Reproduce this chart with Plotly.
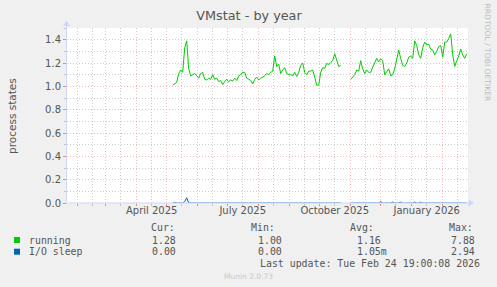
import plotly.graph_objects as go
import pandas as pd

# ---------------- data ----------------
sample_dates = pd.date_range("2025-05-07", periods=148, freq="2D")

running = [
    1.01, 1.02, 1.034, 1.11, 1.14, 1.12, 1.33, 1.39, 1.15, 1.09,
    1.10, 1.11, 1.09, 1.07, 1.11, 1.12, 1.06, 1.055, 1.07, 1.06,
    1.10, 1.06, 1.07, 1.04, 1.05, 1.015, 1.04, 1.06, 1.04, 1.055,
    1.045, 1.07, 1.05, 1.09, 1.10, 1.12, 1.12, 1.07, 1.06, 1.05,
    1.02, 1.06, 1.08, 1.055, 1.07, 1.08, 1.09, 1.11, 1.10, 1.12,
    1.13, 1.26, 1.17, 1.19, 1.11, 1.14, 1.16, 1.11, 1.10, 1.10,
    1.09, 1.12, 1.085, 1.12, 1.18, 1.20, 1.12, 1.10, 1.13, 1.13,
    1.14, 1.08, 1.01, 1.01, 1.12, 1.16, 1.155, 1.197, 1.185, 1.205,
    1.22, 1.28, 1.23, 1.17, 1.18, None, None, None, None, 1.06,
    1.08, 1.10, 1.14, 1.13, 1.22, 1.15, 1.11, 1.14, 1.12, 1.12,
    1.165, 1.20, 1.24, 1.21, 1.235, 1.22, 1.10, 1.125, 1.15, 1.09,
    1.10, 1.15, 1.226, 1.31, 1.24, 1.18, 1.17, 1.20, 1.25, 1.26,
    1.24, 1.39, 1.35, 1.27, 1.24, 1.33, 1.38, 1.355, 1.36, 1.32,
    1.31, 1.27, 1.30, 1.34, 1.35, 1.25, 1.38, 1.38, 1.41, 1.45,
    1.27, 1.17, 1.22, 1.26, 1.32, 1.27, 1.24, 1.28,
]

io_sleep = [0.0] * 148
io_sleep[1] = 0.005
io_sleep[6] = 0.012
io_sleep[7] = 0.045
io_sleep[10] = 0.005
io_sleep[104] = 0.012
io_sleep[110] = 0.008
io_sleep[114] = 0.008
io_sleep[121] = 0.008
io_sleep[124] = 0.008
io_sleep[135] = 0.006
io_sleep[143] = 0.006
for k in (85, 86, 87, 88):
    io_sleep[k] = None

month_starts = [
    "2025-02-01", "2025-03-01", "2025-04-01", "2025-05-01", "2025-06-01",
    "2025-07-01", "2025-08-01", "2025-09-01", "2025-10-01", "2025-11-01",
    "2025-12-01", "2026-01-01", "2026-02-01",
]
mid_months = [
    "2025-02-16", "2025-03-16", "2025-04-16", "2025-05-16", "2025-06-16",
    "2025-07-16", "2025-08-16", "2025-09-16", "2025-10-16", "2025-11-16",
    "2025-12-16", "2026-01-16", "2026-02-16",
]
label_dates = ["2025-04-16", "2025-07-16", "2025-10-16", "2026-01-16"]
label_texts = ["April 2025", "July 2025", "October 2025", "January 2026"]

series_names = ["running", "I/O sleep"]
series_colors = ["#00CC00", "#0066B3"]
cur_vals = ["1.28", "0.00"]
min_vals = ["1.00", "0.00"]
avg_vals = ["1.16", "1.05m"]
max_vals = ["7.88", "2.94"]

# ---------------- layout geometry ----------------
W, H = 497, 287
ML, MR, MT, MB = 67, 29, 28, 84
PW = W - ML - MR
PH = H - MT - MB
PB = H - MB


def px(x):
    return (x - ML) / PW


def py(y):
    return (PB - y) / PH


FONT = "DejaVu Sans"
MONO = "DejaVu Sans Mono"
TXT = "#555555"
AXIS = "#CFD6F8"
MGRID = "rgba(235,120,120,0.5)"
GRID = "rgba(140,140,140,0.45)"
DOT = "1px,2px"

fig = go.Figure()
fig.add_trace(go.Scatter(x=sample_dates, y=running, mode="lines",
                         line=dict(color=series_colors[0], width=1),
                         connectgaps=False, hoverinfo="skip", showlegend=False))
fig.add_trace(go.Scatter(x=sample_dates, y=io_sleep, mode="lines",
                         line=dict(color=series_colors[1], width=1),
                         connectgaps=False, hoverinfo="skip", showlegend=False))
# invisible trace to carry the label axis
fig.add_trace(go.Scatter(x=label_dates, y=[None] * len(label_dates), xaxis="x2",
                         mode="lines", showlegend=False, hoverinfo="skip"))

xrange = ["2025-01-21 07:00", "2026-02-26 07:00"]

fig.update_layout(
    width=W, height=H,
    margin=dict(l=ML, r=MR, t=MT, b=MB, pad=0),
    paper_bgcolor="#F0F0F0",
    plot_bgcolor="#FFFFFF",
    font=dict(family=FONT, size=10, color=TXT),
    title=dict(text="VMstat - by year", x=249 / W, xanchor="center",
               y=1 - 16 / H, yanchor="middle", xref="container", yref="container",
               font=dict(family=FONT, size=12.8, color=TXT)),
    xaxis=dict(
        type="date", range=xrange,
        tickvals=month_starts, ticktext=[""] * len(month_starts),
        showgrid=True, gridcolor=MGRID, griddash=DOT, gridwidth=1,
        ticks="outside", ticklen=2, tickcolor="rgba(235,110,110,0.8)",
        minor=dict(tickvals=mid_months, showgrid=True, gridcolor=GRID,
                   griddash=DOT, gridwidth=1, ticks="outside", ticklen=2,
                   tickcolor=GRID),
        showline=False, zeroline=False, fixedrange=True,
    ),
    xaxis2=dict(
        type="date", range=xrange, overlaying="x", side="bottom",
        tickvals=label_dates, ticktext=label_texts, showgrid=False,
        ticks="", showline=False, zeroline=False,
        tickfont=dict(family=FONT, size=10, color=TXT),
    ),
    yaxis=dict(
        range=[0, 1.5], tickvals=[0, 0.2, 0.4, 0.6, 0.8, 1.0, 1.2, 1.4],
        tickformat=".1f",
        showgrid=True, gridcolor=MGRID, griddash=DOT, gridwidth=1,
        ticks="outside", ticklen=3, tickcolor="rgba(235,110,110,0.8)",
        minor=dict(tickvals=[0.1, 0.3, 0.5, 0.7, 0.9, 1.1, 1.3, 1.5],
                   showgrid=True, gridcolor=GRID, griddash=DOT, gridwidth=1,
                   ticks="outside", ticklen=2, tickcolor=GRID),
        showline=False, zeroline=False,
        tickfont=dict(family=FONT, size=10, color=TXT),
    ),
)

shapes = []
# axis lines and arrows
shapes.append(dict(type="line", xref="paper", yref="paper",
                   x0=px(66.5), x1=px(470), y0=py(203), y1=py(203),
                   line=dict(color=AXIS, width=1), layer="above"))
shapes.append(dict(type="line", xref="paper", yref="paper",
                   x0=px(66.5), x1=px(66.5), y0=py(203), y1=py(25),
                   line=dict(color=AXIS, width=1), layer="above"))
shapes.append(dict(type="path", xref="paper", yref="paper",
                   path=f"M {px(474)},{py(203)} L {px(468.5)},{py(199.5)} L {px(468.5)},{py(206.5)} Z",
                   fillcolor=AXIS, line=dict(width=0), layer="above"))
shapes.append(dict(type="path", xref="paper", yref="paper",
                   path=f"M {px(66.5)},{py(20.5)} L {px(63)},{py(26)} L {px(70)},{py(26)} Z",
                   fillcolor=AXIS, line=dict(width=0), layer="above"))
# legend swatches
row_y = [240, 251.7]
for c, yy in zip(series_colors, row_y):
    shapes.append(dict(type="rect", xref="paper", yref="paper",
                       x0=px(14), x1=px(20), y0=py(yy - 3), y1=py(yy + 3),
                       fillcolor=c, line=dict(width=0)))
fig.update_layout(shapes=shapes)

ann = []


def text(s, x, y, size=9.9, family=MONO, color=TXT, xanchor="left", angle=0):
    ann.append(dict(text=s, x=px(x), y=py(y), xref="paper", yref="paper",
                    xanchor=xanchor, yanchor="middle", showarrow=False,
                    textangle=angle, font=dict(family=family, size=size, color=color)))


text("process states", 12, 116, size=10.5, family=FONT, xanchor="center", angle=-90)
text("RRDTOOL / TOBI OETIKER", 487.5, 53, size=7.6, family=FONT,
     color="#BBBBBB", xanchor="center", angle=90)

text("Cur:", 149, 227.7)
text("Min:", 249, 227.7)
text("Avg:", 348, 227.7)
text("Max:", 446.7, 227.7)
for i, yy in enumerate(row_y):
    text(series_names[i], 26.7, yy)
    text(cur_vals[i], 178, yy, xanchor="right")
    text(min_vals[i], 255.7, yy)
    text(avg_vals[i], 355, yy)
    text(max_vals[i], 476.7, yy, xanchor="right")
text("Last update: Tue Feb 24 19:00:08 2026", 482.3, 263.3, xanchor="right")
text("Munin 2.0.73", 248, 276.5, size=7.5, family=FONT, color="#C8C8C8", xanchor="center")

fig.update_layout(annotations=ann)

fig.write_html("out.html")
